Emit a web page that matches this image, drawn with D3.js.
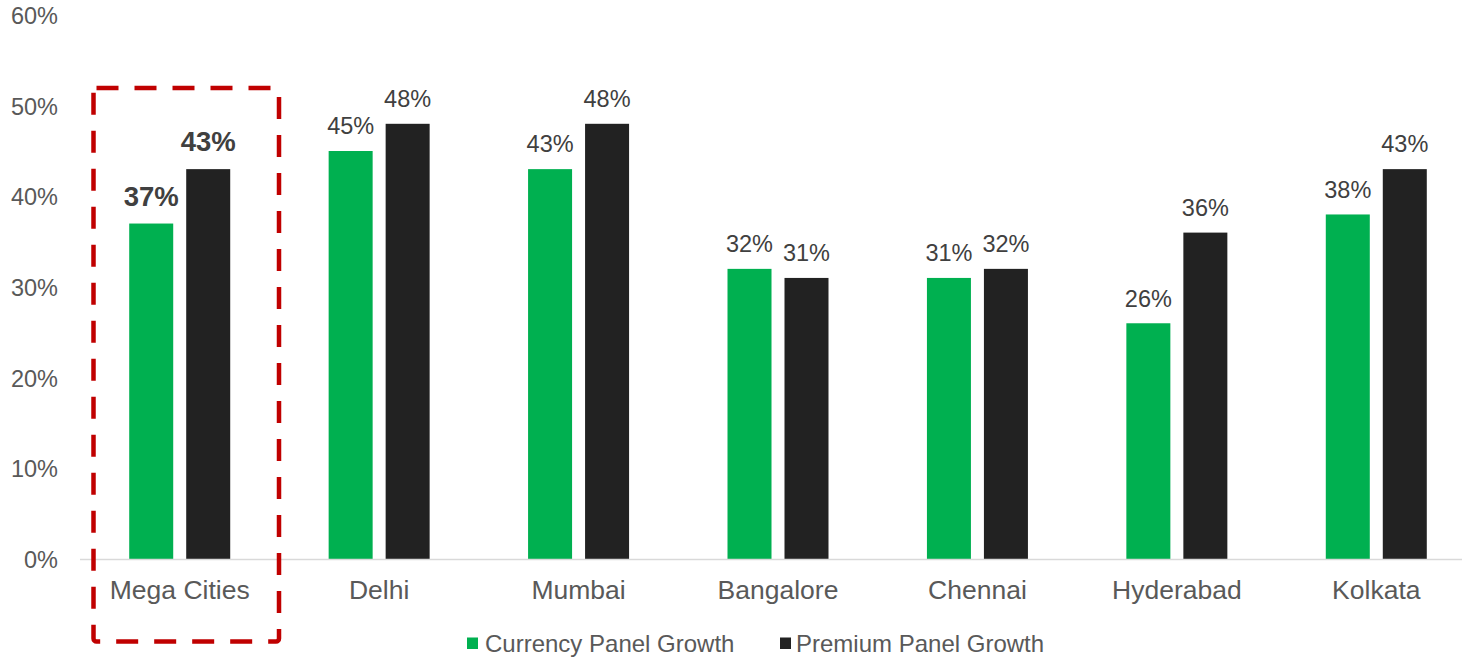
<!DOCTYPE html>
<html><head><meta charset="utf-8">
<script src="https://cdn.jsdelivr.net/npm/d3@7/dist/d3.min.js"></script>
<style>
html,body{margin:0;padding:0;background:#fff;}
svg{display:block;font-family:"Liberation Sans",Arial,sans-serif;}
</style></head>
<body>
<svg id="chart" width="1462" height="658"></svg>
<script>
const categories = ["Mega Cities","Delhi","Mumbai","Bangalore","Chennai","Hyderabad","Kolkata"];
const seriesNames = ["Currency Panel Growth","Premium Panel Growth"];
const currencyGrowth = [37,45,43,32,31,26,38];
const premiumGrowth = [43,48,48,31,32,36,43];
const yTicks = [0,10,20,30,40,50,60];
const colors = ["#00B050","#222222"];

const svg = d3.select("#chart");
const x0 = d3.scaleBand().domain(categories).range([80,1476]).paddingInner(0).paddingOuter(0);
const x1 = d3.scaleBand().domain(seriesNames).range([0,101]).paddingInner(0.228).paddingOuter(0);
const y = d3.scaleLinear().domain([0,60]).range([559,15]);

// y tick labels
const yAxis = d3.axisLeft(y).tickValues(yTicks).tickFormat(d=>d+"%").tickSize(0).tickPadding(0);
const ya = svg.append("g").attr("transform","translate(58,0)").call(yAxis);
ya.select(".domain").remove();
ya.selectAll("text").attr("font-size",23.5).attr("fill","#595959").attr("dy","0.36em")
  .attr("font-family","Liberation Sans, Arial, sans-serif");

const data = categories.map((c,i)=>({cat:c, vals:[currencyGrowth[i], premiumGrowth[i]]}));

const groups = svg.append("g").selectAll("g").data(data).join("g")
  .attr("transform",d=>`translate(${x0(d.cat)+x0.bandwidth()/2-50.5},0)`);

groups.selectAll("rect").data(d=>d.vals.map((v,j)=>({v,s:seriesNames[j],j}))).join("rect")
  .attr("x",d=>x1(d.s)).attr("width",x1.bandwidth())
  .attr("y",d=>y(d.v)).attr("height",d=>y(0)-y(d.v))
  .attr("fill",d=>colors[d.j]);

groups.each(function(d,i){
  const g = d3.select(this);
  d.vals.forEach((v,j)=>{
    g.append("text")
      .attr("x",x1(seriesNames[j])+x1.bandwidth()/2)
      .attr("y",y(v)-(i===0?18:16.7))
      .attr("text-anchor","middle")
      .attr("font-size", i===0?27.5:23.5)
      .attr("font-weight", i===0?"bold":"normal")
      .attr("fill","#404040")
      .text(v+"%");
  });
});

// x axis line
svg.append("line").attr("x1",80).attr("x2",1476).attr("y1",559.5).attr("y2",559.5)
  .attr("stroke","#d9d9d9").attr("stroke-width",1.5);

// category labels
const xAxis = d3.axisBottom(x0).tickSize(0).tickPadding(0);
const xa = svg.append("g").call(xAxis);
xa.select(".domain").remove();
xa.selectAll("text").attr("font-size",26.5).attr("fill","#595959").attr("y",598.5).attr("dy","0")
  .attr("font-family","Liberation Sans, Arial, sans-serif");

// dashed highlight box
svg.append("rect").attr("x",93.5).attr("y",88).attr("width",185.5).attr("height",553.5)
  .attr("rx",3).attr("fill","none").attr("stroke","#C00000").attr("stroke-width",4.5)
  .attr("stroke-dasharray","22,16");

// legend
const legendItems = [{name:seriesNames[0], x:467},{name:seriesNames[1], x:780}];
const lg = svg.append("g").selectAll("g").data(legendItems).join("g")
  .attr("transform",d=>`translate(${d.x},637.5)`);
lg.append("rect").attr("width",11).attr("height",11.5).attr("fill",(d,i)=>colors[i]);
lg.append("text").attr("x",(d,i)=>i===0?18:16).attr("y",14.2).attr("font-size",24).attr("fill","#595959").text(d=>d.name);
</script>
</body></html>
